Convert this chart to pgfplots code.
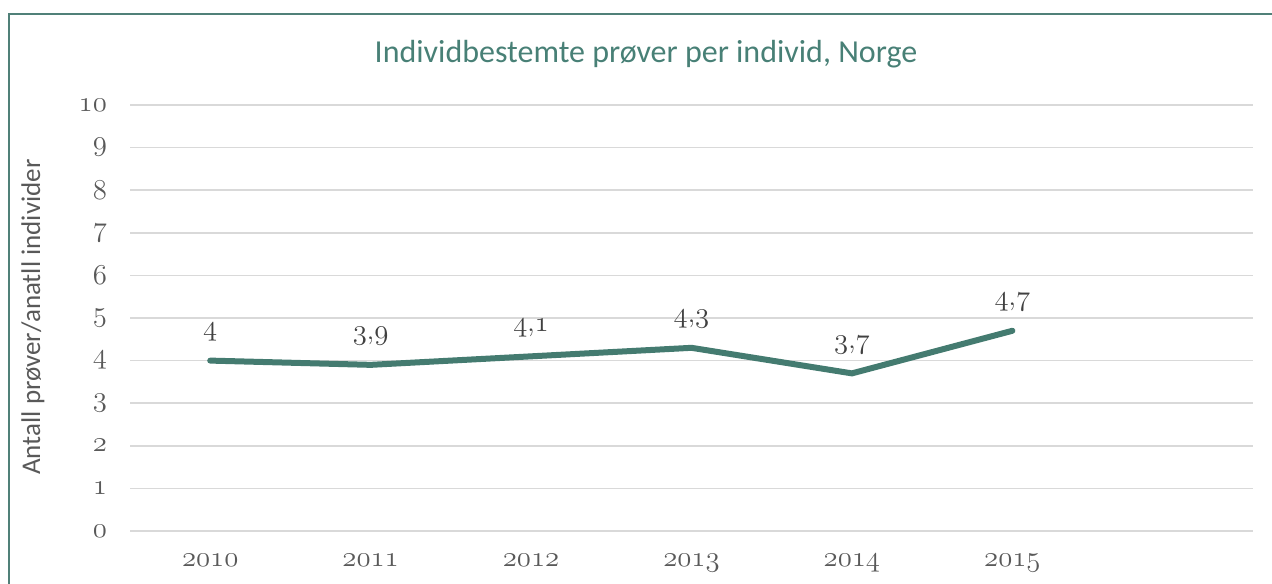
\documentclass[border=0pt]{standalone}
\usepackage{pgfplots}
\pgfplotsset{compat=1.18}
\usepackage{fontspec}
\newfontfamily\carlito{Carlito}
\definecolor{LineGreen}{RGB}{68,123,112}
\definecolor{TitleGreen}{RGB}{72,128,118}
\definecolor{FrameGreen}{RGB}{80,128,120}
\definecolor{GridGray}{RGB}{217,217,217}
\definecolor{TickGray}{RGB}{89,89,89}
\definecolor{LabelGray}{RGB}{64,64,64}
% old-style figures from the Latin Modern math italic font
\newcommand\osf[1]{{\usefont{OML}{lmm}{m}{it}#1}}
\newcommand\osn[1]{\mbox{\fontsize{13.5}{15}\selectfont\osf{#1}}}
\newcommand\dec[2]{\mbox{\fontsize{13.5}{15}\selectfont\osf{#1},\osf{#2}}}
\begin{document}
\begin{tikzpicture}[x=1pt,y=1pt]
\useasboundingbox (0,0) rectangle (636,291.5);
% frame of the chart area
\draw[FrameGreen, line width=1pt] (4.5,-2) -- (4.5,284.5) -- (640,284.5);
\node[TitleGreen, font=\carlito\fontsize{16}{18}\selectfont] at (323,264.5)
  {Individbestemte prøver per individ, Norge};
\node[TickGray, rotate=90, font=\carlito\fontsize{13.5}{15}\selectfont] at (16.5,133)
  {Antall prøver/anatll individer};
\begin{axis}[
    at={(65pt,26pt)}, anchor=south west,
    scale only axis, width=561.5pt, height=213pt,
    xmin=-0.5, xmax=6.5, ymin=0, ymax=10,
    xtick={0,1,2,3,4,5},
    xticklabels={\osn{2010},\osn{2011},\osn{2012},\osn{2013},\osn{2014},\osn{2015}},
    ytick={0,1,...,10},
    yticklabels={\osn{0},\osn{1},\osn{2},\osn{3},\osn{4},\osn{5},\osn{6},\osn{7},\osn{8},\osn{9},\osn{10}},
    ymajorgrids=true,
    grid style={GridGray, line width=0.75pt},
    axis line style={draw=none},
    major tick length=0pt,
    tick label style={TickGray},
    xticklabel style={yshift=-8pt},
    yticklabel style={xshift=-8pt},
    clip=false,
    nodes near coords,
    point meta=explicit symbolic,
    every node near coord/.append style={LabelGray, anchor=south, yshift=5pt},
]
\addplot[LineGreen, line width=3pt, line join=round, line cap=round, mark=none]
  coordinates {
    (0,4.0) [\osn{4}]
    (1,3.9) [\dec{3}{9}]
    (2,4.1) [\dec{4}{1}]
    (3,4.3) [\dec{4}{3}]
    (4,3.7) [\dec{3}{7}]
    (5,4.7) [\dec{4}{7}]
  };
\end{axis}
\end{tikzpicture}
\end{document}
